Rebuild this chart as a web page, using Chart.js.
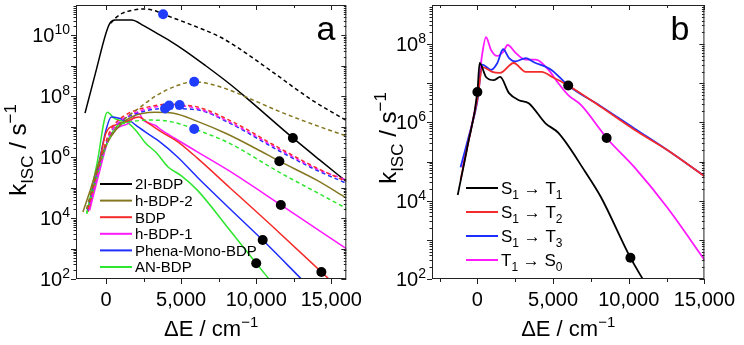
<!DOCTYPE html>
<html>
<head>
<meta charset="utf-8">
<script src="https://cdn.jsdelivr.net/npm/chart.js@4"></script>
<style>
  body { margin: 0; background: #fff; }
  #wrap { position: relative; width: 744px; height: 345px; }
  canvas { position: absolute; top: 0; }
</style>
</head>
<body>
<div id="wrap">
  <canvas id="chartA" width="372" height="345" style="left:0"></canvas>
  <canvas id="chartB" width="372" height="345" style="left:372px"></canvas>
</div>
<script>
// ---- Panel a data: [ΔE (cm-1), kISC (s-1)] ----
const aNames = ["2I-BDP", "h-BDP-2", "BDP", "h-BDP-1", "Phena-Mono-BDP", "AN-BDP"];
const aColors = ["#000000", "#857720", "#f52a2a", "#ff19ff", "#1f2dff", "#2ee62e"];

const aSolid2I = [[-1400,2.8e7],[-700,5.9e8],[0,1.2e10],[250,2.5e10],[600,3.2e10],[1700,3.2e10],[2500,2.1e10],[3480,1.1e10],[4330,6.3e9],[5240,3.2e9],[6540,1.1e9],[8260,2.5e8],[9350,8.9e7],[12440,4.3e6],[14200,8.3e5],[16000,1.6e5]];
const aDash2I = [[300,2.5e10],[700,4.0e10],[1100,5.4e10],[1800,6.8e10],[2500,7.4e10],[3200,6.6e10],[3800,5.0e10],[5430,2.5e10],[7590,8.9e9],[8700,4.2e9],[11000,6.8e8],[13700,7.6e7],[16000,1.6e7]];

const aSolidH2 = [[-1540,1.6e4],[-1000,1.0e5],[-500,6.3e5],[0,2.5e6],[650,7.9e6],[1700,2.1e7],[3270,3.0e7],[4500,2.8e7],[6080,1.5e7],[8000,6.0e6],[10000,1.9e6],[11540,7.4e5],[14000,1.8e5],[16000,4.6e4]];
const aDashH2 = [[-1300,2.0e4],[-800,1.6e5],[-300,1.0e6],[300,5.0e6],[1000,1.4e7],[2170,4.0e7],[3270,1.0e8],[4780,2.3e8],[5870,3.0e8],[7000,2.5e8],[8700,1.3e8],[9700,7.9e7],[11540,3.2e7],[14000,1.1e7],[16000,5.0e6]];

const aSolidBDP = [[-1200,1.6e4],[-600,2.5e5],[0,6.3e6],[650,1.15e7],[1300,1.45e7],[2170,2.1e7],[2830,1.3e7],[3680,6.8e6],[4780,3.2e6],[6080,9.3e5],[8260,9.8e4],[11000,5.8e3],[14340,1.7e2],[15400,5.5e1]];
const aDashBDP = [[-1200,2.0e4],[-700,2.0e5],[-200,1.6e6],[300,7.9e6],[800,1.6e7],[1520,2.8e7],[2830,4.5e7],[4330,5.6e7],[4900,5.2e7],[6080,4.5e7],[8260,1.6e7],[11540,2.0e6],[14000,4.5e5],[16000,1.6e5]];

const aSolidH1 = [[-1090,1.8e4],[-500,2.5e5],[220,4.6e6],[870,9.8e6],[1500,1.3e7],[2170,2.8e7],[2500,1.6e7],[2900,1.3e7],[3300,1.1e7],[3680,7.9e6],[4570,4.2e6],[6080,1.5e6],[8260,3.4e5],[11640,2.7e4],[16000,1.0e3]];
const aDashH1 = [[-1150,1.8e4],[-650,1.8e5],[-150,1.4e6],[350,7.0e6],[850,1.4e7],[1550,2.4e7],[2850,4.0e7],[4200,5.0e7],[6080,4.0e7],[8260,1.4e7],[11540,1.8e6],[14000,4.2e5],[16000,1.8e5]];

const aSolidPhena = [[-1200,1.8e4],[-600,3.2e5],[0,7.9e6],[350,2.1e7],[870,1.9e7],[1300,1.6e7],[1700,1.45e7],[1960,1.15e7],[2610,6.8e6],[3480,3.5e6],[4780,1.0e6],[6080,2.2e5],[8260,2.0e4],[10430,1.9e3],[13100,9.0e1]];
const aDashPhena = [[-1200,1.8e4],[-700,1.6e5],[-200,1.3e6],[300,6.3e6],[800,1.3e7],[1520,2.2e7],[2830,3.5e7],[3930,4.0e7],[6080,3.6e7],[8260,1.3e7],[11540,1.6e6],[14000,3.8e5],[16000,1.4e5]];

const aSolidAN = [[-1280,1.4e4],[-600,6.3e5],[90,3.0e7],[550,1.9e7],[870,1.65e7],[1500,1.3e7],[1960,7.9e6],[2610,3.0e6],[3350,1.4e6],[4130,4.8e5],[5000,2.5e5],[6080,8.3e4],[8260,3.9e3],[10000,3.3e2],[11000,8.1e1]];
const aDashAN = [[-1300,1.4e4],[-800,1.0e5],[-300,7.9e5],[200,4.0e6],[700,1.0e7],[1500,1.4e7],[3000,1.66e7],[4370,1.45e7],[5870,8.5e6],[8260,2.8e6],[11540,3.2e5],[14000,7.1e4],[16000,2.1e4]];

const aBlueDots = [[3800,5.0e10],[5870,3.0e8],[3930,4.0e7],[4200,5.0e7],[4900,5.2e7],[5870,8.5e6]];
const aBlackDots = [[12440,4.3e6],[11540,7.4e5],[11640,2.7e4],[14340,1.7e2],[10430,1.9e3],[10000,3.3e2]];

// ---- Panel b data ----
const bNames = ["S_{1} \u2192 T_{1}", "S_{1} \u2192 T_{2}", "S_{1} \u2192 T_{3}", "T_{1} \u2192 S_{0}"];
const bColors = ["#000000", "#f52a2a", "#1f2dff", "#ff19ff"];
const bS1T1 = [[-1300,1.4e4],[-650,2.5e5],[0,6.0e6],[150,3.3e7],[570,1.45e7],[1100,1.2e7],[1500,1.45e7],[2090,5.6e6],[2740,3.7e6],[3390,3.1e6],[4500,9.5e5],[5350,5.4e5],[7110,5.6e4],[8150,1.26e4],[10110,3.5e2],[11000,8.9e1]];
const bS1T2 = [[-1110,3.4e4],[-600,3.2e5],[0,4.0e6],[330,2.6e7],[980,1.95e7],[1500,1.85e7],[2400,3.3e7],[3190,1.95e7],[4240,1.95e7],[5000,1.4e7],[6000,8.8e6],[8150,2.5e6],[10370,6.5e5],[12520,2.0e5],[15000,4.2e4]];
const bS1T3 = [[-1110,7.2e4],[-600,4.0e5],[0,3.5e6],[330,3.0e7],[900,2.2e7],[1300,3.2e7],[1700,7.4e7],[2090,4.4e7],[2500,3.6e7],[3190,4.4e7],[3700,3.5e7],[4890,2.2e7],[6000,8.8e6],[8150,2.6e6],[10370,7.0e5],[12520,2.0e5],[15000,4.3e4]];
const bT1S0 = [[-980,6.9e4],[-500,5.0e5],[0,5.0e6],[300,5.0e7],[570,1.5e8],[900,7.1e7],[1300,5.0e7],[1700,6.3e7],[2000,9.5e7],[2540,5.9e7],[3190,4.0e7],[3850,4.0e7],[4700,2.2e7],[5350,1.0e7],[6000,5.0e6],[6840,2.8e6],[8150,6.3e5],[8540,4.0e5],[10370,7.2e4],[12520,6.9e3],[15000,3.1e2]];
const bBlackDots = [[0,6.0e6],[6000,8.8e6],[8540,4.0e5],[10110,3.5e2]];

// ---- Ticks ----
const aXTicks = [0, 5000, 10000, 15000];
const aXMinor = [-2500, 2500, 7500, 12500];
const xTickLabels = ["0", "5,000", "10,000", "15,000"];
const aYTicks = [1e2, 1e4, 1e6, 1e8, 1e10];
const aYTickLabels = ["10^{2}", "10^{4}", "10^{6}", "10^{8}", "10^{10}"];
const bYTicks = [1e2, 1e4, 1e6, 1e8];
const bYTickLabels = ["10^{2}", "10^{4}", "10^{6}", "10^{8}"];

const FONT = '"Liberation Sans", Arial, Helvetica, sans-serif';

// text with _{sub} and ^{sup}
function richParts(text) {
  const parts = [];
  let cur = "", i = 0;
  while (i < text.length) {
    const c = text[i];
    if ((c === "_" || c === "^") && text[i + 1] === "{") {
      if (cur) parts.push({ t: cur, k: 0 });
      cur = "";
      const end = text.indexOf("}", i);
      parts.push({ t: text.slice(i + 2, end), k: c === "_" ? 1 : -1 });
      i = end + 1;
    } else { cur += c; i++; }
  }
  if (cur) parts.push({ t: cur, k: 0 });
  return parts;
}

function drawRich(ctx, text, x, y, size, align, ratio) {
  const parts = richParts(text);
  const small = Math.round(size * (ratio || 0.68));
  let w = 0;
  parts.forEach(p => {
    ctx.font = (p.k ? small : size) + "px " + FONT;
    p.w = ctx.measureText(p.t).width;
    w += p.w;
  });
  let cx = align === "center" ? x - w / 2 : align === "right" ? x - w : x;
  ctx.textAlign = "left";
  ctx.textBaseline = "alphabetic";
  parts.forEach(p => {
    ctx.font = (p.k ? small : size) + "px " + FONT;
    const dy = p.k === 1 ? size * 0.28 : p.k === -1 ? -size * 0.4 : 0;
    ctx.fillText(p.t, cx, y + dy);
    cx += p.w;
  });
}

// frame, ticks, tick labels, titles, legend, panel letter
const framePlugin = {
  id: "frame",
  afterDraw(chart, args, o) {
    const { ctx, chartArea: a, scales: { x, y } } = chart;
    ctx.save();
    ctx.strokeStyle = "#222";
    ctx.lineWidth = 1;
    ctx.strokeRect(a.left + 0.5, a.top + 0.5, a.right - a.left - 1, a.bottom - a.top - 1);
    const line = (x1, y1, x2, y2) => { ctx.beginPath(); ctx.moveTo(x1, y1); ctx.lineTo(x2, y2); ctx.stroke(); };
    // x ticks: bottom outward, top inward
    o.xMajor.forEach(v => {
      const p = Math.round(x.getPixelForValue(v)) + 0.5;
      line(p, a.bottom, p, a.bottom + 5);
      line(p, a.top, p, a.top + 5);
    });
    o.xMinor.forEach(v => {
      const p = Math.round(x.getPixelForValue(v)) + 0.5;
      if (p < a.left || p > a.right) return;
      line(p, a.bottom, p, a.bottom + 3);
      line(p, a.top, p, a.top + 3);
    });
    // y ticks: left outward, right inward
    for (let e = o.yMinExp; e < o.yMaxExp; e++) {
      for (let m = 1; m <= 9; m++) {
        const p = Math.round(y.getPixelForValue(m * Math.pow(10, e))) + 0.5;
        const len = m === 1 ? 5 : 2.5;
        line(a.left - len, p, a.left, p);
        line(a.right - len, p, a.right, p);
      }
    }
    ctx.fillStyle = "#000";
    o.yTicks.forEach((v, i) => {
      const p = y.getPixelForValue(v);
      drawRich(ctx, o.yLabels[i], a.left - 6, p + 7, 20, "right");
    });
    // axis titles
    const cxA = (a.left + a.right) / 2;
    drawRich(ctx, "\u0394E / cm^{\u22121}", cxA, 336, 22, "center");
    ctx.save();
    ctx.translate(o.yTitleX, o.yTitleY);
    ctx.rotate(-Math.PI / 2);
    drawRich(ctx, "k_{ISC} / s^{\u22121}", 0, 0, 24, "center", 0.72);
    ctx.restore();
    // legend
    o.legend.labels.forEach((t, i) => {
      const ly = o.legend.y0 + i * o.legend.dy;
      ctx.strokeStyle = o.legend.colors[i];
      ctx.lineWidth = 2;
      line(o.legend.x0, ly, o.legend.x1, ly);
      ctx.fillStyle = "#000";
      drawRich(ctx, t, o.legend.x1 + 3, ly + o.legend.size * 0.36, o.legend.size, "left");
    });
    // panel letter
    ctx.font = "34px " + FONT;
    ctx.textAlign = "center";
    ctx.textBaseline = "alphabetic";
    ctx.fillText(o.letter, o.letterX, 40);
    ctx.restore();
  }
};

function curve(points, color, dashed, width) {
  return {
    data: points.map(p => ({ x: p[0], y: p[1] })),
    borderColor: color,
    borderWidth: width,
    borderDash: dashed ? [4, 3] : [],
    pointRadius: 0,
    fill: false,
    cubicInterpolationMode: "monotone",
    order: 2
  };
}

function dots(points, color) {
  return {
    data: points.map(p => ({ x: p[0], y: p[1] })),
    showLine: false,
    pointRadius: 5,
    pointBackgroundColor: color,
    pointBorderWidth: 0,
    borderColor: color,
    order: 0
  };
}

function makeChart(id, cfg) {
  return new Chart(document.getElementById(id), {
    type: "line",
    data: { datasets: cfg.datasets },
    options: {
      responsive: false,
      animation: false,
      events: [],
      layout: { padding: { top: 5, right: cfg.padRight, left: 0, bottom: 0 } },
      plugins: { legend: { display: false }, tooltip: { enabled: false }, frame: cfg.frame },
      scales: {
        x: {
          type: "linear", min: cfg.xMin, max: cfg.xMax,
          grid: { display: false, drawTicks: false }, border: { display: false },
          afterBuildTicks: s => { s.ticks = aXTicks.map(v => ({ value: v })); },
          afterFit: s => { s.height = 66; },
          ticks: {
            color: "#000", font: { size: 20, family: FONT }, padding: 9,
            maxRotation: 0, autoSkip: false,
            callback: (v, i) => xTickLabels[i]
          }
        },
        y: {
          type: "logarithmic", min: cfg.yMin, max: cfg.yMax,
          grid: { display: false }, border: { display: false },
          ticks: { display: false },
          afterFit: s => { s.width = cfg.yWidth; }
        }
      }
    },
    plugins: [framePlugin]
  });
}

// ---- Panel a ----
const aSolids = [aSolid2I, aSolidH2, aSolidBDP, aSolidH1, aSolidPhena, aSolidAN];
const aDashes = [aDash2I, aDashH2, aDashBDP, aDashH1, aDashPhena, aDashAN];
const aSets = [dots(aBlueDots, "#1f3cff"), dots(aBlackDots, "#000")];
aDashes.forEach((d, i) => aSets.push(curve(d, aColors[i], true, 1.5)));
aSolids.forEach((d, i) => aSets.push(curve(d, aColors[i], false, 1.5)));

makeChart("chartA", {
  datasets: aSets, padRight: 20, yWidth: 76,
  xMin: -2000, xMax: 16000, yMin: 1e2, yMax: 1e11,
  frame: {
    xMajor: aXTicks, xMinor: aXMinor,
    yMinExp: 2, yMaxExp: 11, yTicks: aYTicks, yLabels: aYTickLabels,
    yTitleX: 26, yTitleY: 150,
    legend: { labels: aNames, colors: aColors, x0: 100, x1: 132, y0: 184, dy: 16.6, size: 15 },
    letter: "a", letterX: 326
  }
});

// ---- Panel b ----
const bSets = [dots(bBlackDots, "#000")];
[bS1T1, bS1T2, bS1T3, bT1S0].forEach((d, i) => bSets.push(curve(d, bColors[i], false, 1.8)));

makeChart("chartB", {
  datasets: bSets, padRight: 36, yWidth: 60,
  xMin: -3000, xMax: 15000, yMin: 1e2, yMax: 1e9,
  frame: {
    xMajor: aXTicks, xMinor: aXMinor,
    yMinExp: 2, yMaxExp: 9, yTicks: bYTicks, yLabels: bYTickLabels,
    yTitleX: 24, yTitleY: 138,
    legend: { labels: bNames, colors: bColors, x0: 94, x1: 126, y0: 188, dy: 24, size: 17 },
    letter: "b", letterX: 308
  }
});
</script>
</body>
</html>
